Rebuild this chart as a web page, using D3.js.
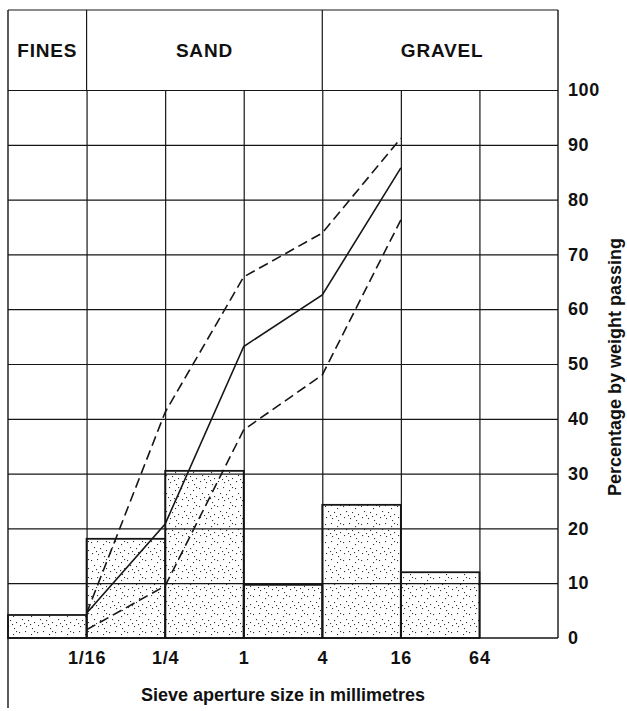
<!DOCTYPE html>
<html><head><meta charset="utf-8">
<script src="https://cdn.jsdelivr.net/npm/d3@7/dist/d3.min.js"></script>
<style>
html,body{margin:0;padding:0;background:#fff;}
svg text{font-family:"Liberation Sans",Arial,Helvetica,sans-serif;font-weight:bold;fill:#111;}
</style></head>
<body><svg id="chart" width="627" height="711"></svg>
<script>
// ---- data ----
const sizeTicks = [1/16, 1/4, 1, 4, 16, 64];
const sizeTickLabels = ["1/16", "1/4", "1", "4", "16", "64"];
const binLower = [1/64, 1/16, 1/4, 1, 4, 16];
const binUpper = [1/16, 1/4, 1, 4, 16, 64];
const binPercent = [4.2, 18.1, 30.5, 9.7, 24.3, 12.0];
const curveSizes = [1/16, 1/4, 1, 4, 16];
const medianPassing = [4.5, 20.8, 53.2, 62.6, 85.8];
const upperPassing = [4.5, 41.2, 65.9, 73.9, 91.2];
const lowerPassing = [1.5, 9.5, 38.0, 48.0, 76.3];
const yTicks = [0, 10, 20, 30, 40, 50, 60, 70, 80, 90, 100];
const classNames = ["FINES", "SAND", "GRAVEL"];
const classLower = [1/64, 1/16, 4];
const classUpper = [1/16, 4, 256];
const xTitle = "Sieve aperture size in millimetres";
const yTitle = "Percentage by weight passing";

// ---- layout ----
const svg = d3.select("#chart");
const pLeft = 8, pRight = 558, pTop = 90, pBottom = 638, headTop = 10;
const x = d3.scaleLog().base(2).domain([1/64, 256]).range([pLeft, pRight]);
const y = d3.scaleLinear().domain([0, 100]).range([pBottom, pTop]);
const ink = "#161616";

// stipple pattern
const defs = svg.append("defs");
const pat = defs.append("pattern").attr("id", "stip").attr("patternUnits", "userSpaceOnUse")
  .attr("width", 18).attr("height", 18);
const dots = [[1,2],[7,1],[13,4],[4,7],[10,8],[16,10],[2,13],[8,14],[14,16],[6,11],[12,12],[16,1]];
dots.forEach(d => pat.append("rect").attr("x", d[0]).attr("y", d[1]).attr("width", 1.1).attr("height", 1.1).attr("fill", "#333"));

// bars
const bins = binLower.map((lo, i) => ({lo, hi: binUpper[i], v: binPercent[i]}));
svg.append("g").selectAll("rect").data(bins).join("rect")
  .attr("x", d => x(d.lo)).attr("y", d => y(d.v))
  .attr("width", d => x(d.hi) - x(d.lo)).attr("height", d => y(0) - y(d.v))
  .attr("fill", "url(#stip)").attr("stroke", ink).attr("stroke-width", 1.8);

// horizontal grid
const gy = svg.append("g").attr("transform", `translate(${pRight},0)`)
  .call(d3.axisLeft(y).tickValues(yTicks.slice(1)).tickSize(pRight - pLeft).tickFormat(""));
gy.select(".domain").remove();
gy.selectAll(".tick line").attr("stroke", ink).attr("stroke-width", 1.2);

// vertical grid
const gx = svg.append("g").attr("transform", `translate(0,${pBottom})`)
  .call(d3.axisTop(x).tickValues(sizeTicks).tickSize(pBottom - pTop).tickFormat(""));
gx.select(".domain").remove();
gx.selectAll(".tick line").attr("stroke", ink).attr("stroke-width", 1.2);

// header
const classes = classNames.map((n, i) => ({n, lo: classLower[i], hi: classUpper[i]}));
svg.append("g").selectAll("line").data(classes.slice(1)).join("line")
  .attr("x1", d => x(d.lo)).attr("x2", d => x(d.lo)).attr("y1", headTop).attr("y2", pTop)
  .attr("stroke", ink).attr("stroke-width", 1.2);
svg.append("g").selectAll("text").data(classes).join("text")
  .attr("x", d => (x(d.lo) + x(d.hi)) / 2 + (d.n === "GRAVEL" ? 2 : 0))
  .attr("y", (headTop + pTop) / 2 + 7)
  .attr("text-anchor", "middle").attr("font-size", 19).attr("letter-spacing", 0.8)
  .text(d => d.n);

// frame
svg.append("line").attr("x1", pLeft).attr("x2", pRight).attr("y1", headTop).attr("y2", headTop).attr("stroke", ink).attr("stroke-width", 1.2);
svg.append("line").attr("x1", pLeft).attr("x2", pLeft).attr("y1", headTop).attr("y2", 708).attr("stroke", ink).attr("stroke-width", 1.4);

// right axis
const ay = svg.append("g").attr("transform", `translate(${pRight},0)`)
  .call(d3.axisRight(y).tickValues(yTicks).tickSize(0).tickPadding(10).tickFormat(d3.format("d")));
ay.select(".domain").attr("stroke", ink).attr("stroke-width", 1.4).attr("d", `M0,${headTop}V${pBottom}`);
ay.selectAll("text").attr("font-size", 18).attr("letter-spacing", 0.6).attr("fill", "#111")
  .attr("font-family", "Liberation Sans, Arial, sans-serif").attr("font-weight", "bold");

// bottom axis
const ax = svg.append("g").attr("transform", `translate(0,${pBottom})`)
  .call(d3.axisBottom(x).tickValues(sizeTicks).tickSize(0).tickPadding(13).tickFormat((d, i) => sizeTickLabels[i]));
ax.select(".domain").attr("stroke", ink).attr("stroke-width", 1.6).attr("d", `M${pLeft},0H${pRight}`);
ax.selectAll("text").attr("font-size", 18).attr("letter-spacing", 0.8).attr("fill", "#111")
  .attr("font-family", "Liberation Sans, Arial, sans-serif").attr("font-weight", "bold");

// curves
const line = d3.line().x(d => x(d[0])).y(d => y(d[1]));
const series = [
  {vals: upperPassing, dash: "10,5"},
  {vals: medianPassing, dash: null},
  {vals: lowerPassing, dash: "10,5"}
];
svg.append("g").selectAll("path").data(series).join("path")
  .attr("d", s => line(curveSizes.map((c, i) => [c, s.vals[i]])))
  .attr("fill", "none").attr("stroke", ink).attr("stroke-width", 1.6)
  .attr("stroke-dasharray", s => s.dash);

// titles
svg.append("text").attr("x", 283).attr("y", 701).attr("text-anchor", "middle").attr("font-size", 18).text(xTitle);
svg.append("text").attr("transform", "translate(621,367) rotate(-90)").attr("text-anchor", "middle").attr("font-size", 18).text(yTitle);
</script></body></html>
